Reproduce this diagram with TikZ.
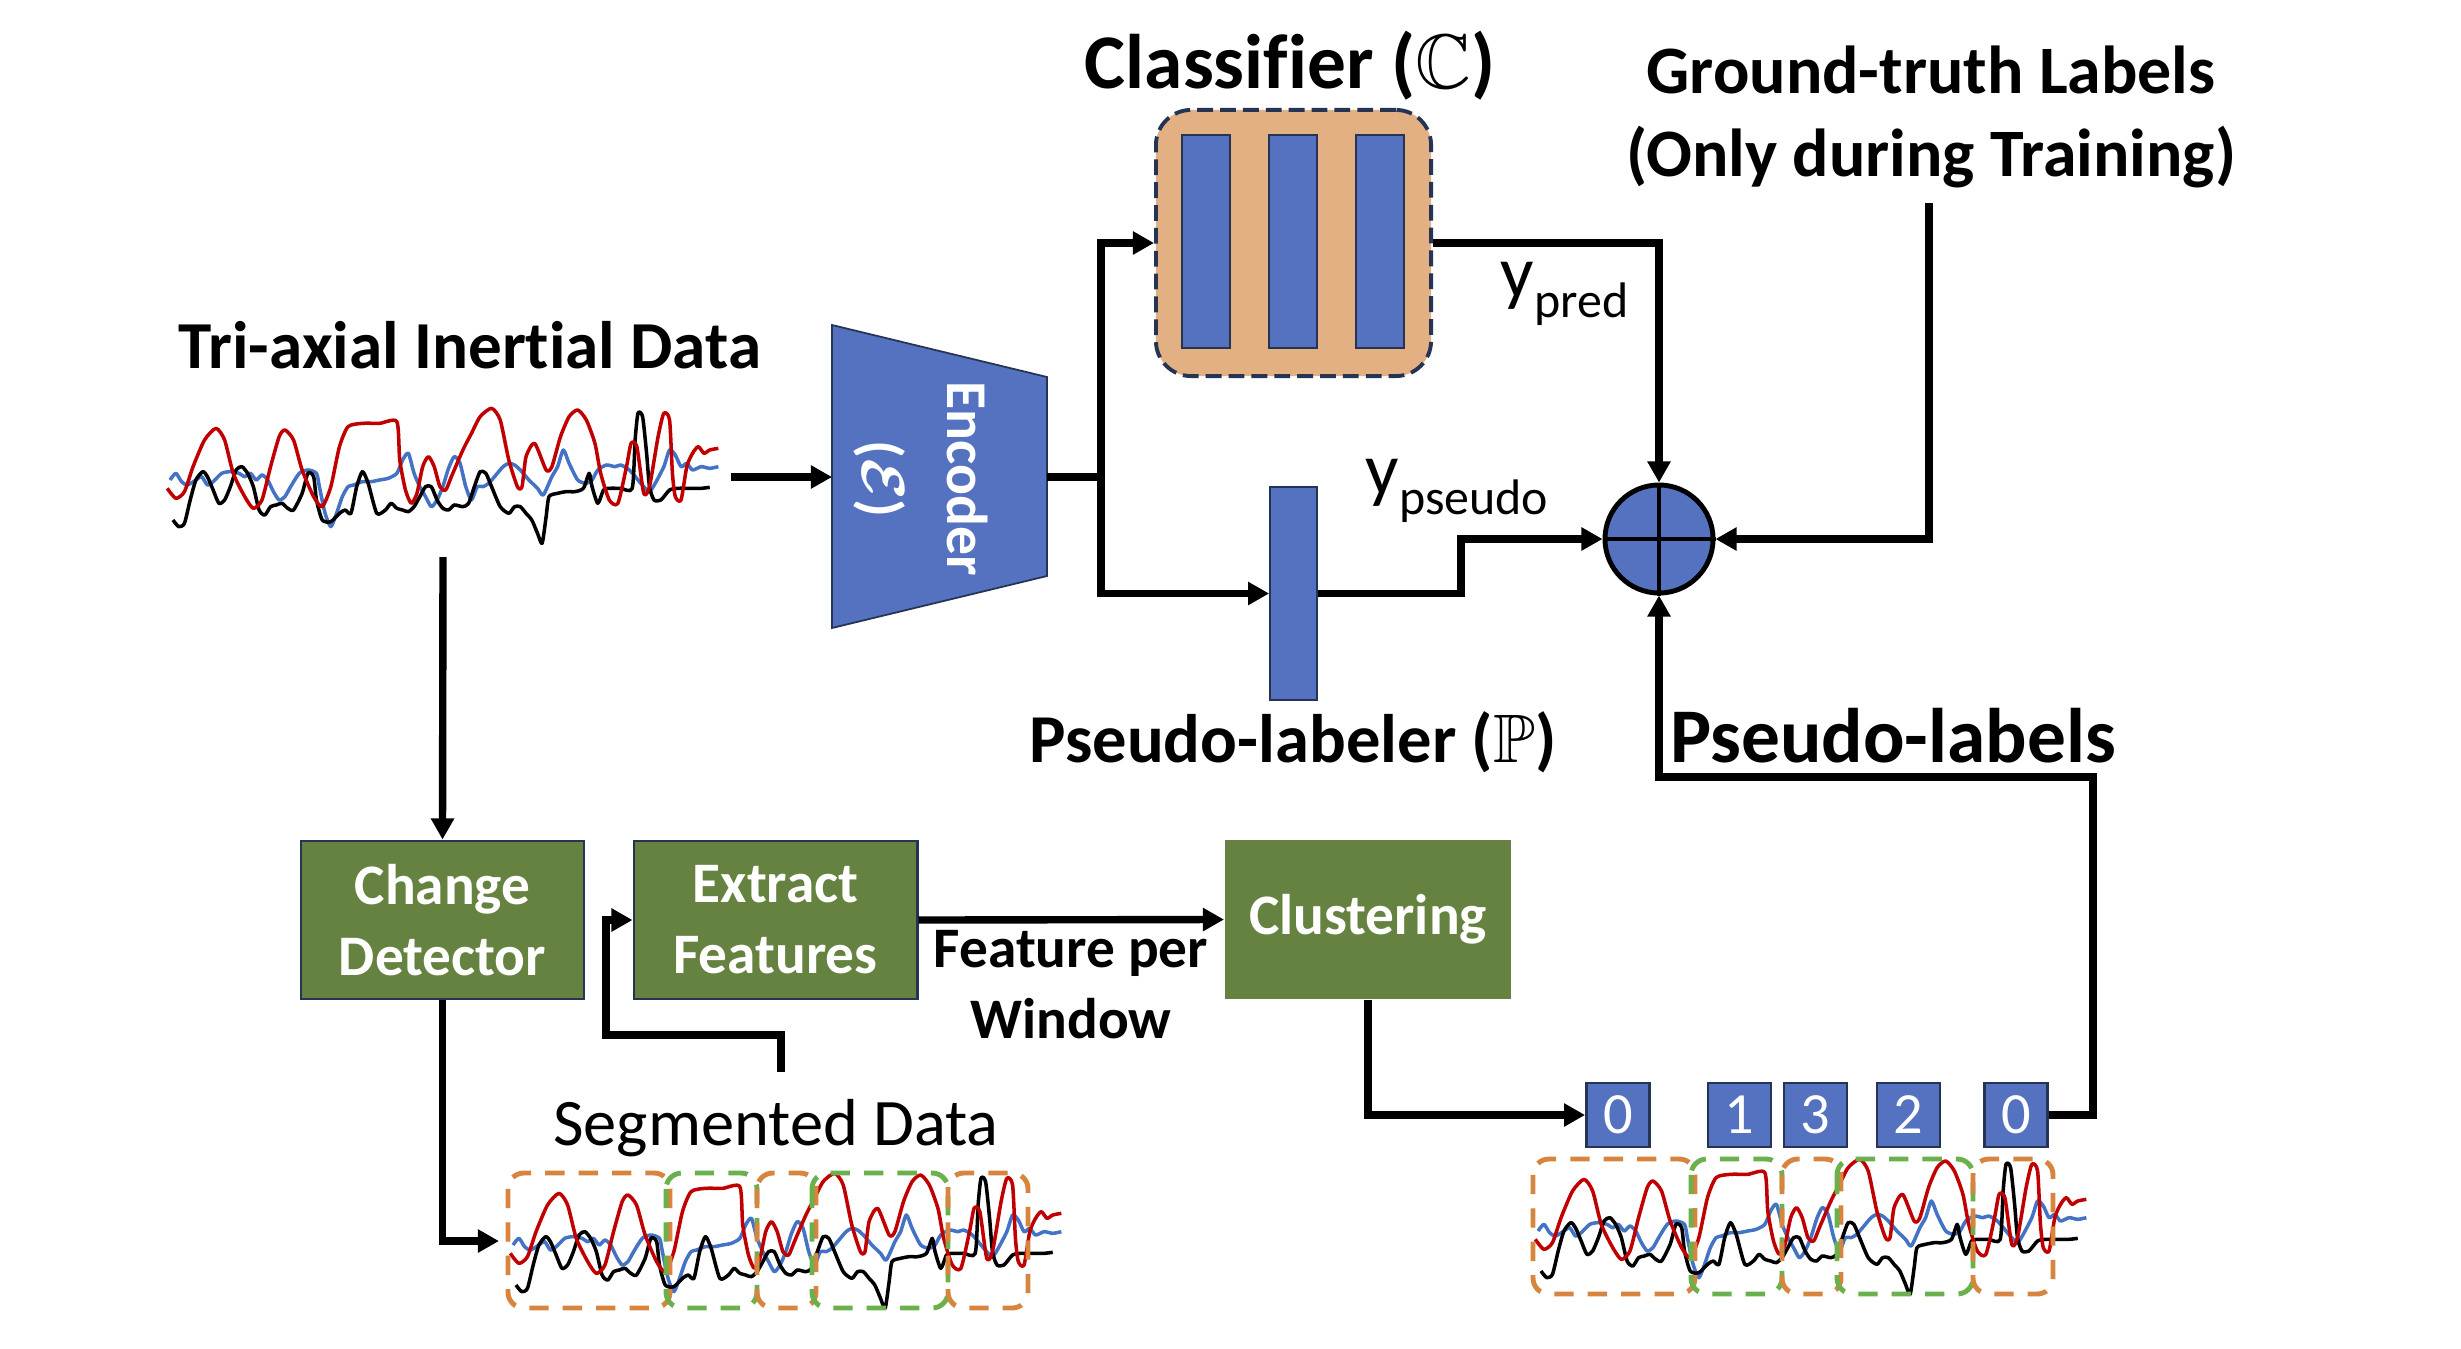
\documentclass[tikz,border=0pt]{standalone}
\usepackage{fontspec}
\setmainfont{Carlito}[Ligatures={NoCommon}]
\usepackage{amsmath}
\usepackage{amssymb}
\usetikzlibrary{arrows.meta}
\definecolor{myblue}{RGB}{84,114,192}
\definecolor{navy}{RGB}{38,52,84}
\definecolor{mygreen}{RGB}{102,130,64}
\definecolor{clstan}{RGB}{227,176,132}
\definecolor{dorange}{RGB}{214,132,62}
\definecolor{dgreen}{RGB}{106,176,76}
\definecolor{sigred}{RGB}{192,0,0}
\definecolor{sigblue}{RGB}{68,114,196}
\newcommand{\drawsignal}{%
\draw[sigblue,line width=1pt,line join=round] plot[smooth,tension=0.4] coordinates {(35,540) (45,520) (55,545) (65,555) (80,540) (90,530) (100,555) (110,545) (125,520) (140,515) (155,520) (165,530) (175,520) (185,540) (195,525) (205,540) (215,575) (225,600) (235,590) (245,560) (260,520) (275,510) (290,520) (295,560) (305,640) (315,680) (325,640) (335,590) (345,560) (355,555) (370,545) (385,545) (400,540) (415,535) (430,520) (440,480) (450,460) (460,520) (470,560) (480,590) (490,620) (500,600) (510,560) (520,505) (530,470) (540,490) (550,560) (560,600) (570,560) (580,560) (590,550) (605,520) (615,500) (625,490) (635,495) (645,510) (660,540) (675,565) (685,585) (700,530) (710,500) (720,450) (730,490) (745,540) (760,550) (770,540) (780,510) (795,495) (810,500) (820,495) (835,510) (850,540) (860,560) (870,575) (880,550) (895,500) (905,450) (915,465) (925,500) (935,490) (945,510) (960,500) (975,505) (990,500)};
\draw[black,line width=1pt,line join=round] plot[smooth,tension=0.4] coordinates {(40,660) (50,680) (60,670) (70,600) (80,540) (92,515) (100,530) (110,570) (120,610) (130,600) (140,560) (150,510) (160,500) (170,520) (180,560) (190,630) (200,645) (210,620) (220,615) (230,610) (240,625) (250,630) (265,580) (275,520) (285,530) (290,600) (300,660) (315,665) (330,640) (340,630) (350,640) (360,560) (370,515) (380,550) (395,640) (410,630) (420,610) (430,625) (440,630) (450,635) (460,620) (470,590) (480,560) (490,560) (500,600) (510,625) (520,630) (530,615) (545,620) (555,610) (565,560) (575,515) (585,520) (595,560) (610,620) (625,640) (635,620) (645,620) (655,640) (665,660) (675,700) (683,730) (690,650) (695,590) (710,580) (725,575) (740,575) (755,565) (765,520) (770,560) (780,610) (790,570) (800,565) (820,565) (840,565) (845,420) (850,340) (858,350) (865,460) (870,560) (878,600) (890,600) (905,570) (920,565) (940,565) (960,565) (975,562)};
\draw[sigred,line width=1pt,line join=round] plot[smooth,tension=0.4] coordinates {(30,565) (45,595) (60,575) (75,500) (95,420) (115,385) (130,420) (145,520) (165,590) (180,625) (195,600) (210,500) (225,410) (235,390) (250,420) (265,510) (285,590) (300,620) (315,560) (330,440) (345,380) (370,370) (400,370) (430,365) (435,480) (445,570) (455,610) (465,580) (475,500) (485,470) (495,500) (505,560) (515,570) (525,530) (545,450) (560,400) (575,350) (595,325) (610,360) (625,480) (640,560) (648,560) (655,470) (670,430) (690,510) (700,500) (715,410) (730,350) (745,330) (760,360) (775,430) (785,520) (800,600) (815,610) (830,500) (838,430) (848,440) (860,580) (870,560) (885,410) (895,340) (905,360) (910,520) (915,590) (925,600) (935,500) (945,460) (955,440) (965,460) (975,450) (990,445)};
}
\newcommand{\drawsegboxes}{%
\draw[segO] (165,408) rectangle (327,543);
\draw[segG] (323,408) rectangle (414,543);
\draw[segO] (414,408) rectangle (473,543);
\draw[segG] (469,408) rectangle (605,543);
\draw[segO] (605,408) rectangle (685,543);
}
\tikzset{
  conn/.style={line width=2.1pt},
  arr/.style={conn,-{Triangle[length=6pt,width=6.3pt]}},
  gbox/.style={fill=mygreen,draw=navy,line width=0.8pt,minimum width=2.83cm,minimum height=1.58cm,inner sep=0pt,text=white,align=center,font=\fontsize{16.3pt}{20.2pt}\selectfont\bfseries},
  bbar/.style={fill=myblue,draw=navy,line width=0.5pt,minimum width=0.48cm,minimum height=2.13cm,inner sep=0pt},
  nbox/.style={fill=myblue,draw=navy,line width=0.8pt,minimum width=0.63cm,minimum height=0.64cm,inner sep=0pt,text=white,font=\fontsize{16.6pt}{20pt}\selectfont},
  segO/.style={draw=dorange,line width=1.4pt,dash pattern=on 5.5pt off 4pt,rounded corners=4.5pt},
  segG/.style={draw=dgreen,line width=1.4pt,dash pattern=on 5.5pt off 4pt,rounded corners=4.5pt},
  lbl/.style={anchor=base,inner sep=0pt},
}
\begin{document}
\begin{tikzpicture}[x=0.01cm,y=-0.01cm]
\useasboundingbox (0,0) rectangle (2461,1348);
\fill[white] (0,0) rectangle (2461,1348);

% signals
\begin{scope}[shift={(150,300)},xscale=0.5741,yscale=0.3333]
\drawsignal
\end{scope}
\begin{scope}[shift={(343,765)}]
\begin{scope}[shift={(150,300)},xscale=0.5741,yscale=0.3333]
\drawsignal
\end{scope}
\drawsegboxes
\end{scope}
\begin{scope}[shift={(1368,751)}]
\begin{scope}[shift={(150,300)},xscale=0.5741,yscale=0.3333]
\drawsignal
\end{scope}
\drawsegboxes
\end{scope}

% encoder
\fill[myblue] (832,325) -- (1047,377) -- (1047,576) -- (832,628) -- cycle;
\draw[navy,line width=0.5pt] (832,325) -- (1047,377) -- (1047,576) -- (832,628) -- cycle;
\node[rotate=-90,align=center,text=white,inner sep=0pt,font=\fontsize{16.4pt}{24.2pt}\selectfont\bfseries] (enc) at (921,479) {Encoder\\($\boldsymbol{\mathcal{E}}$)};
\coordinate (encL) at (832,477);
\coordinate (encR) at (1047,477);
\coordinate (jn) at (1101,477);
\coordinate (sigR) at (731,477);
\coordinate (sigB) at (443,557);

% classifier
\node[fill=clstan,draw=navy,line width=1.1pt,dash pattern=on 4.5pt off 2pt,rounded corners=10pt,minimum width=2.75cm,minimum height=2.66cm,inner sep=0pt] (cls) at (1293.5,243) {};
\node[bbar] (b1) at (1206,241.5) {};
\node[bbar] (b2) at (1293,241.5) {};
\node[bbar] (b3) at (1380,241.5) {};

% pseudo-labeler
\node[bbar,minimum width=0.47cm] (pl) at (1293.5,593.5) {};

% plus
\node[circle,fill=myblue,draw=black,line width=1.4pt,minimum size=1.08cm,inner sep=0pt] (plus) at (1659,539) {};
\draw[line width=1.1pt] (plus.north) -- (plus.south) (plus.west) -- (plus.east);

% green boxes
\node[gbox] (cd) at (442.5,920) {Change\\Detector};
\node[gbox] (ef) at (775.5,920) {Extract\\Features};
\node[gbox,draw=none,minimum width=2.85cm,minimum height=1.59cm] (cl) at (1368,919.5) {Clustering};

% number boxes
\node[nbox] (n1) at (1618,1115) {0};
\node[nbox] (n2) at (1739.5,1115) {1};
\node[nbox] (n3) at (1815.5,1115) {3};
\node[nbox] (n4) at (1908.5,1115) {2};
\node[nbox] (n5) at (2016,1115) {0};

% coordinates
\coordinate (gtB) at (1929,203);
\coordinate (fbR) at (2093,777);
\coordinate (segL) at (499,1241);
\coordinate (segT) at (781,1072);
\coordinate (bend) at (606,1035);

% connectors
\draw[arr] (sigR) -- (encL);
\draw[conn] (encR) -- (jn);
\draw[arr] (jn) |- (cls.west);
\draw[arr] (jn) |- (pl.west);
\draw[arr] (pl.east) -- ++(143,0) |- (plus.west);
\draw[arr] (cls.east) -| (plus.north);
\draw[arr] (gtB) |- (plus.east);
\draw[arr] (n5.east) -| (fbR) -| (plus.south);
\draw[arr] (sigB) -- (cd.north);
\draw[arr] (cd.south) |- (segL);
\draw[arr] (segT) |- (bend) |- (ef.west);
\draw[arr] (ef.east) -- (cl.west);
\draw[arr] (cl.south) |- (n1.west);

% texts
\node[lbl,font=\fontsize{22pt}{26pt}\selectfont\bfseries] (tcls) at (1290,88) {Classifier ($\mathbb{C}$)};
\node[align=center,inner sep=0pt,font=\fontsize{19.3pt}{23.6pt}\selectfont\bfseries] (tgt) at (1931,117) {Ground-truth Labels\\(Only during Training)};
\node[lbl,font=\fontsize{19.1pt}{23pt}\selectfont\bfseries] (ttri) at (470,368) {Tri-axial Inertial Data};
\node[lbl,font=\fontsize{19.5pt}{23pt}\selectfont\bfseries] (tpl) at (1293,762) {Pseudo-labeler ($\mathbb{P}$)};
\node[lbl,font=\fontsize{22pt}{26pt}\selectfont\bfseries] (tpls) at (1893,762) {Pseudo-labels};
\node[align=center,inner sep=0pt,font=\fontsize{16.3pt}{20.2pt}\selectfont\bfseries] (tfpw) at (1071,985) {Feature per\\Window};
\node[lbl,font=\fontsize{18.9pt}{23pt}\selectfont] (tseg) at (776,1145) {Segmented Data};
\node[anchor=base west,inner sep=0pt] (typred) at (1500,297) {\fontsize{21pt}{25pt}\selectfont y\fontsize{14.2pt}{17pt}\selectfont\raisebox{-5.7pt}{pred}};
\node[anchor=base west,inner sep=0pt] (typs) at (1365,494) {\fontsize{21pt}{25pt}\selectfont y\fontsize{14.2pt}{17pt}\selectfont\raisebox{-5.7pt}{pseudo}};
\end{tikzpicture}
\end{document}
